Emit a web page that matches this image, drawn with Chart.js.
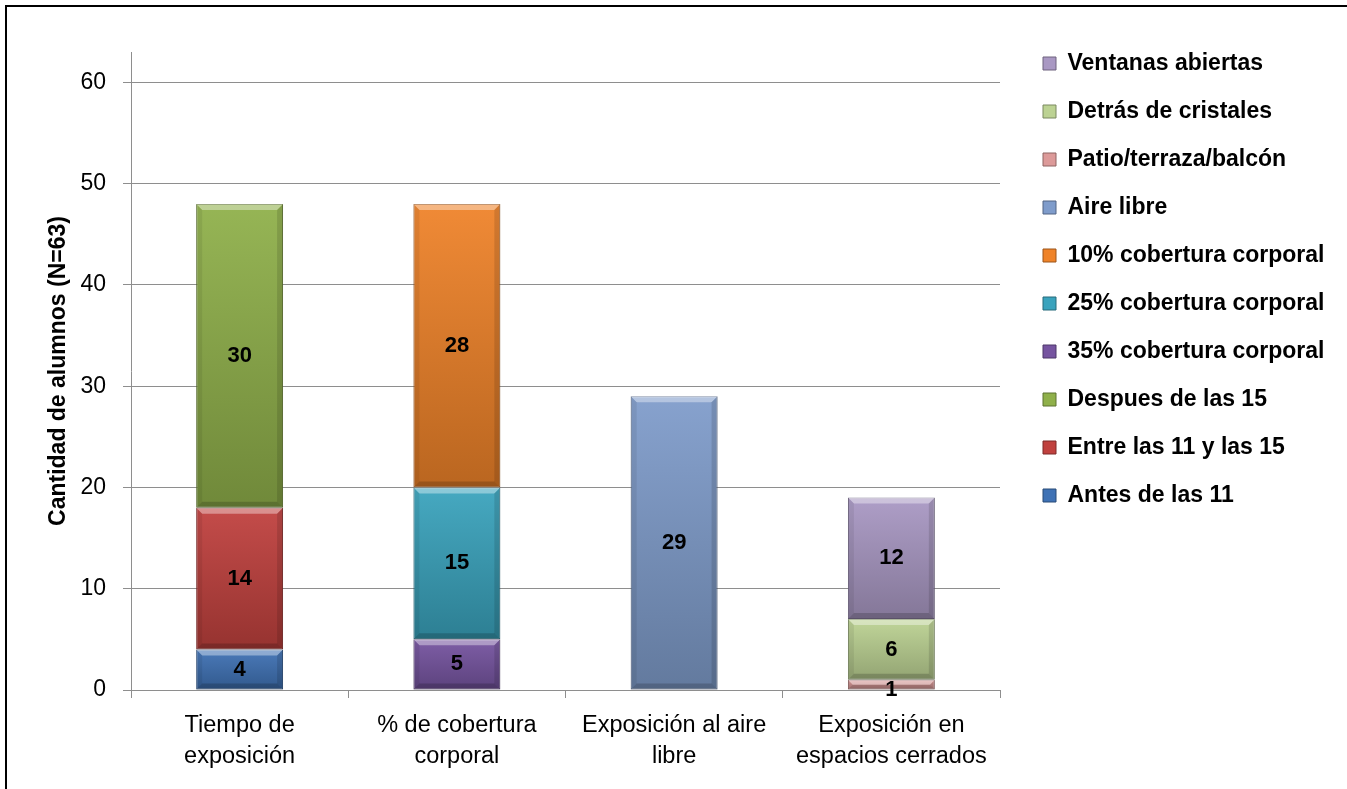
<!DOCTYPE html>
<html>
<head>
<meta charset="utf-8">
<script src="https://cdn.jsdelivr.net/npm/chart.js@4.4.1/dist/chart.umd.min.js"></script>
<style>
  html, body { margin: 0; padding: 0; background: #fff; overflow: hidden; }
  #wrap { position: relative; width: 1347px; height: 789px; }
  #frame { position: absolute; left: 5px; top: 5px; right: 0; bottom: 0;
           border-top: 2px solid #000; border-left: 2px solid #000; pointer-events: none; }
</style>
</head>
<body>
<div id="wrap">
  <canvas id="chart" width="1347" height="789"></canvas>
  <div id="frame"></div>
</div>
<script>
const categories = [
    ['Tiempo de', 'exposición'],
    ['% de cobertura', 'corporal'],
    ['Exposición al aire', 'libre'],
    ['Exposición en', 'espacios cerrados']
];

// one value per category, stacked bottom to top in this order
const antes11 = [4, 0, 0, 0];
const entre11y15 = [14, 0, 0, 0];
const despues15 = [30, 0, 0, 0];
const cob35 = [0, 5, 0, 0];
const cob25 = [0, 15, 0, 0];
const cob10 = [0, 28, 0, 0];
const aireLibre = [0, 0, 29, 0];
const patio = [0, 0, 0, 1];
const cristales = [0, 0, 0, 6];
const ventanas = [0, 0, 0, 12];

const seriesNames = [
    'Antes de las 11', 'Entre las 11 y las 15', 'Despues de las 15',
    '35% cobertura corporal', '25% cobertura corporal', '10% cobertura corporal',
    'Aire libre', 'Patio/terraza/balcón', 'Detrás de cristales', 'Ventanas abiertas'
];
const seriesValues = [antes11, entre11y15, despues15, cob35, cob25, cob10, aireLibre, patio, cristales, ventanas];
const baseColors = [
    '#3f72b5', '#c0413e', '#8fb04a', '#7654a0', '#3aa3bd', '#ef8329',
    '#7f9ccb', '#dc9a99', '#bcd293', '#a998c3'
];
const yTicks = [0, 10, 20, 30, 40, 50, 60];

const FONT = "'Liberation Sans', Arial, sans-serif";

function shade(hex, amt) {
    // amt > 0 lighten toward white, amt < 0 darken toward black
    const n = parseInt(hex.slice(1), 16);
    let r = n >> 16, g = (n >> 8) & 255, b = n & 255;
    const t = amt > 0 ? 255 : 0, p = Math.abs(amt);
    r = Math.round(r + (t - r) * p);
    g = Math.round(g + (t - g) * p);
    b = Math.round(b + (t - b) * p);
    return 'rgb(' + r + ',' + g + ',' + b + ')';
}

function segmentFill(c) {
    const base = baseColors[c.datasetIndex];
    const y = c.chart.scales.y;
    if (c.type !== 'data' || !y) return base;
    let start = 0;
    for (let d = 0; d < c.datasetIndex; d++) start += seriesValues[d][c.dataIndex];
    const v = seriesValues[c.datasetIndex][c.dataIndex];
    const top = y.getPixelForValue(start + v);
    const bottom = y.getPixelForValue(start);
    if (!isFinite(top) || !isFinite(bottom) || bottom - top < 1) return base;
    const g = c.chart.ctx.createLinearGradient(0, top, 0, bottom);
    g.addColorStop(0, shade(base, 0.06));
    g.addColorStop(1, shade(base, -0.22));
    return g;
}

const datasets = seriesNames.map((name, i) => ({
    label: name,
    data: seriesValues[i],
    backgroundColor: segmentFill,
    borderColor: shade(baseColors[i], -0.35),
    borderWidth: 1,
    borderSkipped: false,
    barPercentage: 0.4,
    categoryPercentage: 1
}));

// legend geometry
const legendFontSize = 23;
const legendPad = 25;
const legendBox = 13;
const measure = document.createElement('canvas').getContext('2d');
measure.font = 'bold ' + legendFontSize + 'px ' + FONT;
const maxText = Math.max(...seriesNames.map(s => measure.measureText(s).width));
const legendWidth = legendPad + legendBox + legendFontSize / 2 + maxText + 10;
const legendLeft = 1043 - legendPad;
const gapRight = legendLeft - 1000;
const padRight = Math.max(0, 1347 - legendLeft - legendWidth);

// the layout caps side boxes at a share of the width; let the legend take what it needs
const wideLegend = {
    id: 'wideLegend',
    afterInit(chart) {
        const lg = chart.legend;
        const upd = lg.update.bind(lg);
        lg.update = (maxW, maxH, margins) => upd(Math.max(maxW, legendWidth + 4), maxH, margins);
    }
};

// soft bevel edges on each bar segment, like the office "circle" bevel
const bevel = {
    id: 'bevel',
    afterDatasetsDraw(chart) {
        const ctx = chart.ctx;
        ctx.save();
        chart.data.datasets.forEach((ds, di) => {
            chart.getDatasetMeta(di).data.forEach((bar, j) => {
                if (!ds.data[j]) return;
                const l = bar.x - bar.width / 2, r = bar.x + bar.width / 2;
                const t = bar.y, b = bar.base;
                const e = Math.min(6, (b - t) / 2);
                const quad = (pts, fill) => {
                    ctx.beginPath();
                    ctx.moveTo(pts[0], pts[1]);
                    for (let k = 2; k < pts.length; k += 2) ctx.lineTo(pts[k], pts[k + 1]);
                    ctx.closePath();
                    ctx.fillStyle = fill;
                    ctx.fill();
                };
                quad([l, t, r, t, r - e, t + e, l + e, t + e], 'rgba(255,255,255,0.38)');
                quad([l, b, r, b, r - e, b - e, l + e, b - e], 'rgba(0,0,0,0.18)');
                quad([l, t, l + e, t + e, l + e, b - e, l, b], 'rgba(0,0,0,0.07)');
                quad([r, t, r - e, t + e, r - e, b - e, r, b], 'rgba(0,0,0,0.12)');
            });
        });
        ctx.restore();
    }
};

const valueLabels = {
    id: 'valueLabels',
    afterDatasetsDraw(chart) {
        const ctx = chart.ctx;
        ctx.save();
        ctx.font = 'bold 22px ' + FONT;
        ctx.fillStyle = '#000';
        ctx.textAlign = 'center';
        ctx.textBaseline = 'middle';
        chart.data.datasets.forEach((ds, di) => {
            const meta = chart.getDatasetMeta(di);
            meta.data.forEach((bar, j) => {
                const v = ds.data[j];
                if (!v) return;
                const h = bar.base - bar.y;
                const cy = h < 20 ? bar.base : (bar.y + bar.base) / 2;
                ctx.fillText(String(v), bar.x, cy);
            });
        });
        ctx.restore();
    }
};

new Chart(document.getElementById('chart'), {
    type: 'bar',
    data: { labels: categories, datasets: datasets },
    options: {
        responsive: false,
        animation: false,
        layout: { padding: { left: 0, top: 27, right: padRight, bottom: 0 } },
        plugins: {
            legend: {
                position: 'right',
                align: 'start',
                reverse: true,
                labels: {
                    boxWidth: legendBox,
                    boxHeight: legendBox,
                    padding: legendPad,
                    color: '#000',
                    font: { family: FONT, size: legendFontSize, weight: 'bold' },
                    generateLabels(chart) {
                        return chart.data.datasets.map((ds, i) => ({
                            text: ds.label,
                            fillStyle: baseColors[i],
                            strokeStyle: shade(baseColors[i], -0.35),
                            lineWidth: 1,
                            datasetIndex: i,
                            hidden: false
                        }));
                    }
                }
            },
            tooltip: { enabled: false }
        },
        scales: {
            x: {
                stacked: true,
                grid: { drawOnChartArea: false, drawTicks: true, tickLength: 8, color: '#8e8e8e' },
                border: { display: true, color: '#8e8e8e' },
                ticks: {
                    color: '#000',
                    padding: 12,
                    font: { family: FONT, size: 23.5, lineHeight: 1.33 },
                    maxRotation: 0
                },
                afterFit(scale) { scale.height = 99; }
            },
            xTop: {
                type: 'category',
                position: 'top',
                labels: categories,
                grid: { display: false },
                border: { display: false },
                ticks: { display: false },
                afterFit(scale) { scale.height = 25; }
            },
            y: {
                stacked: true,
                min: 0,
                max: 63,
                ticks: {
                    stepSize: 10,
                    color: '#000',
                    padding: 17,
                    font: { family: FONT, size: 23 }
                },
                afterBuildTicks(scale) {
                    scale.ticks = yTicks.map(v => ({ value: v }));
                },
                grid: { color: '#8e8e8e', tickLength: 8 },
                border: { display: true, color: '#8e8e8e' },
                title: {
                    display: true,
                    text: 'Cantidad de alumnos (N=63)',
                    color: '#000',
                    font: { family: FONT, size: 23, weight: 'bold' },
                    padding: { top: 45, bottom: 0 }
                },
                afterFit(scale) { scale.width = 131; }
            },
            yGap: {
                type: 'linear',
                position: 'right',
                grid: { display: false },
                border: { display: false },
                ticks: { display: false },
                afterFit(scale) { scale.width = gapRight; }
            }
        }
    },
    plugins: [wideLegend, bevel, valueLabels]
});
</script>
</body>
</html>
